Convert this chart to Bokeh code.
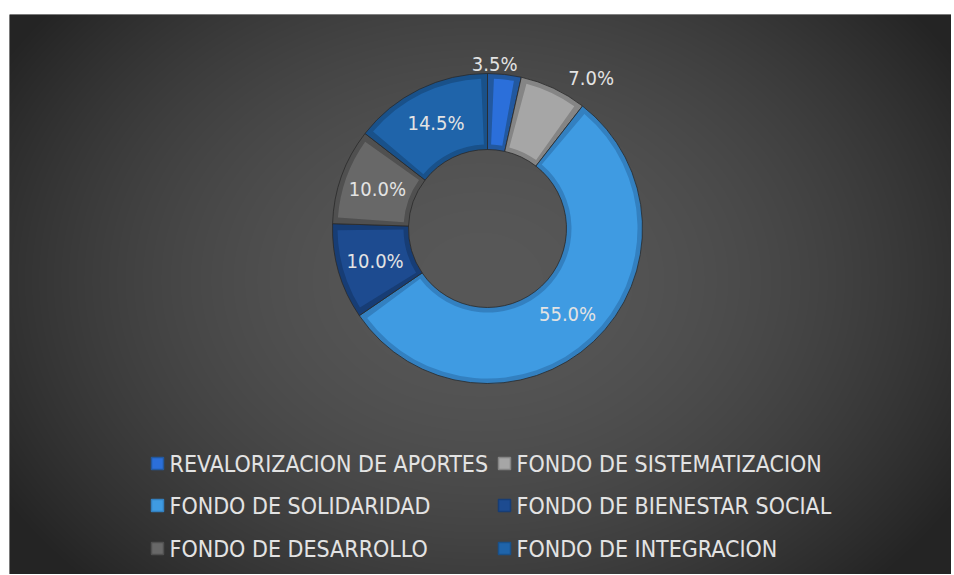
import numpy as np
from math import pi, sin, cos
from bokeh.plotting import figure
from bokeh.models import Range1d, ColumnDataSource
from bokeh.core.properties import value
from bokeh.embed import file_html
from bokeh.resources import INLINE

# ---- data ----
categories = ["REVALORIZACION DE APORTES", "FONDO DE SISTEMATIZACION",
              "FONDO DE SOLIDARIDAD", "FONDO DE BIENESTAR SOCIAL",
              "FONDO DE DESARROLLO", "FONDO DE INTEGRACION"]
shares = [3.5, 7.0, 55.0, 10.0, 10.0, 14.5]
labels = ["3.5%", "7.0%", "55.0%", "10.0%", "10.0%", "14.5%"]
colors = ["#2b6fda", "#a6a6a6", "#3f9be2", "#1d4b90", "#686868", "#1f64aa"]
edge_colors = ["#22589f", "#858585", "#3380c0", "#173d75", "#505050", "#19518a"]

FONT = "'DejaVu Sans Condensed', 'Liberation Sans Narrow', 'DejaVu Sans', sans-serif"

W, H = 942, 560          # frame size in px (data units == px)
p = figure(width=951, height=574, output_backend="svg", toolbar_location=None,
           x_range=Range1d(0, W), y_range=Range1d(0, H),
           min_border_left=9, min_border_right=0, min_border_top=14, min_border_bottom=0)
p.axis.visible = False
p.grid.visible = False
p.outline_line_color = None
p.border_fill_color = "white"
p.background_fill_color = "#333333"

# page -> data helpers
def px(x): return x - 9
def py(y): return 574 - y

# ---- background radial gradient ----
xs = np.arange(W) + 9
ys = 574 - np.arange(H)          # row 0 is bottom
X, Y = np.meshgrid(xs, ys)
t = np.sqrt(((X - 480) / 560.0) ** 2 + ((Y - 280) / 430.0) ** 2)
t = np.clip(t, 0, 1.0) ** 1.8
c0, c1 = 0x58, 0x24
g = (c0 - (c0 - c1) * t).astype(np.uint8)
img = np.zeros((H, W, 4), dtype=np.uint8)
img[..., 0] = g; img[..., 1] = g; img[..., 2] = g; img[..., 3] = 255
p.image_rgba(image=[img.view(np.uint32).reshape(H, W)], x=0, y=0, dw=W, dh=H)

# ---- donut ----
cx, cy = px(487), py(228)
r_in, r_out = 79, 155
total = sum(shares)
fr = np.array(shares) / total
cum_end = np.cumsum(fr)
cum_start = cum_end - fr
start = pi / 2 - cum_end * 2 * pi
end = pi / 2 - cum_start * 2 * pi

src = ColumnDataSource(dict(start=start, end=end, color=colors, edge=edge_colors))
p.annular_wedge(x=cx, y=cy, inner_radius=r_in, outer_radius=r_out,
                inner_radius_units="screen", outer_radius_units="screen",
                start_angle="start", end_angle="end", source=src,
                fill_color="edge", line_color="#2a2a2a", line_width=0.8)
inset = 5
mid_r = (r_in + r_out) / 2
dang = inset / mid_r
src2 = ColumnDataSource(dict(start=start + dang, end=end - dang, color=colors))
p.annular_wedge(x=cx, y=cy, inner_radius=r_in + inset, outer_radius=r_out - inset,
                inner_radius_units="screen", outer_radius_units="screen",
                start_angle="start", end_angle="end", source=src2,
                fill_color="color", line_color=None)

# ---- data labels ----
mid = (cum_start + cum_end) / 2 * 2 * pi   # clockwise from top
label_r = [166, 166, 117, 117, 117, 117]
label_dx = [-11, 33, 0, 0, 0, 0]
lx = [cx + r * sin(a) + d for r, a, d in zip(label_r, mid, label_dx)]
ly = [cy + r * cos(a) for r, a in zip(label_r, mid)]
p.text(x=lx, y=ly, text=labels, text_align="center", text_baseline="middle",
       text_font=value(FONT), text_font_size="20px", text_color="#e3e3e3")

# ---- legend (2 columns, row-major) ----
col_x = [px(157), px(504)]
row_y = [py(463), py(505), py(548)]
lgx = [col_x[i % 2] for i in range(len(categories))]
lgy = [row_y[i // 2] for i in range(len(categories))]
p.rect(x=lgx, y=lgy, width=12, height=12, width_units="screen", height_units="screen",
       fill_color=colors, line_color=edge_colors, line_width=1.5)
p.text(x=[x + 12 for x in lgx], y=lgy, text=categories, text_align="left",
       text_baseline="middle", text_font=value(FONT), text_font_size="23px",
       text_color="#e3e3e3")

open("out.html", "w").write(file_html(p, INLINE))
